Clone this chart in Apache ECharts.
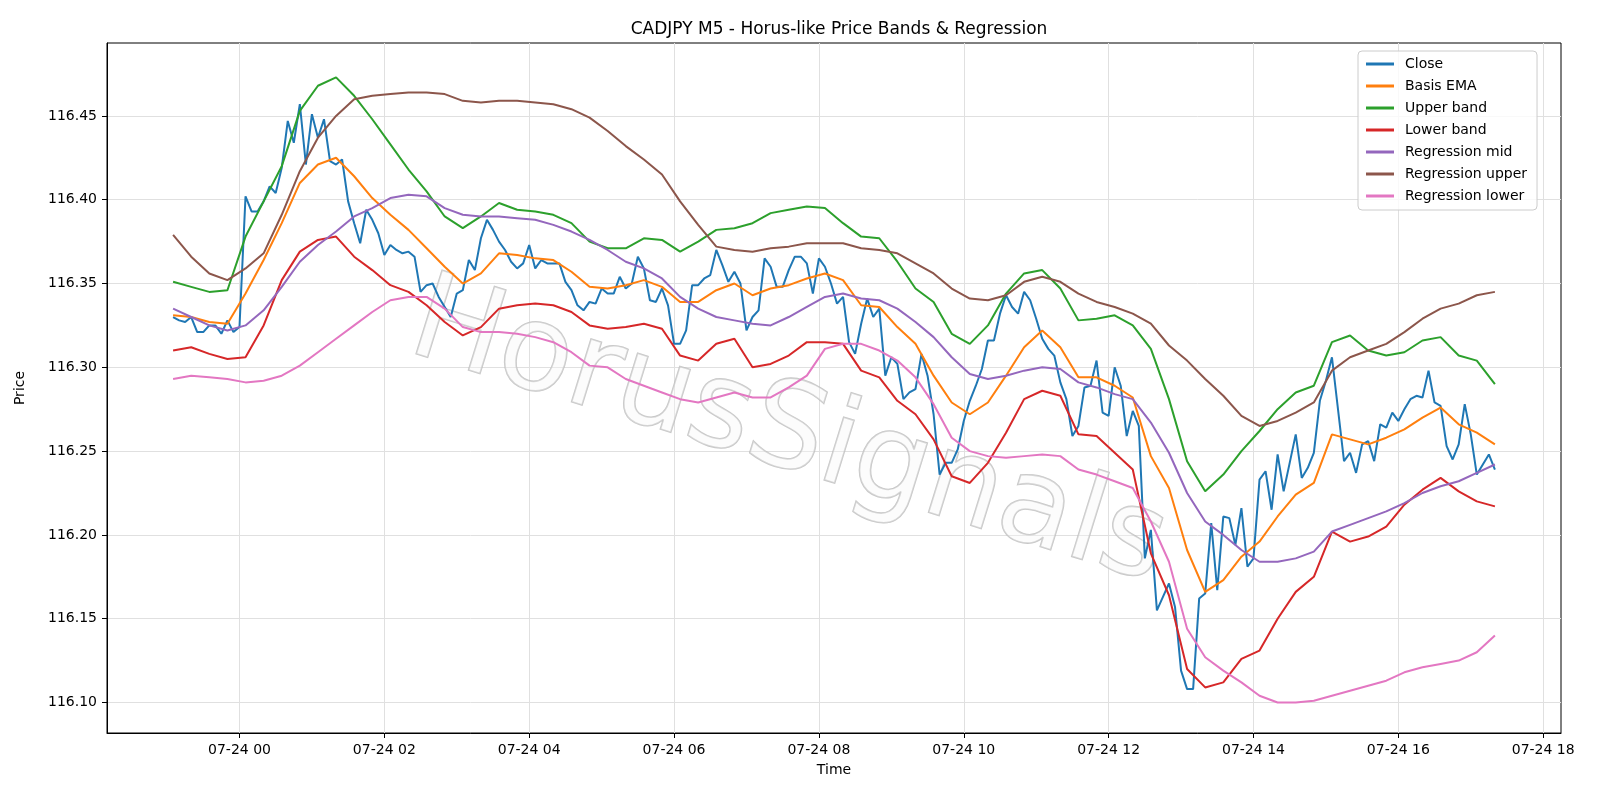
<!DOCTYPE html>
<html>
<head>
<meta charset="utf-8">
<title>CADJPY M5</title>
<script src="https://cdn.jsdelivr.net/npm/echarts@6/dist/echarts.min.js"></script>
<style>
  html, body { margin: 0; padding: 0; background: #fff; }
  #chart { width: 1600px; height: 800px; }
</style>
</head>
<body>
<div id="chart"></div>
<script>
// 5 minute bars, first bar is 07-23 23:05 (minutes counted from 07-24 00:00)
const startMinute = -55
const barMinutes = 5
// bands and regression lines were read every 3rd bar
const bandStep = 3

const close = [
  116.330, 116.328, 116.327, 116.330, 116.321, 116.321, 116.325, 116.325, 116.320, 116.328, 116.321, 116.324,
  116.402, 116.393, 116.393, 116.399, 116.408, 116.404, 116.419, 116.447, 116.434, 116.457, 116.421, 116.451,
  116.437, 116.448, 116.423, 116.421, 116.424, 116.399, 116.386, 116.374, 116.394, 116.388, 116.380, 116.367,
  116.373, 116.370, 116.368, 116.369, 116.366, 116.345, 116.349, 116.350, 116.342, 116.336, 116.330, 116.344,
  116.346, 116.364, 116.358, 116.377, 116.388, 116.382, 116.375, 116.370, 116.363, 116.359, 116.362, 116.373,
  116.359, 116.364, 116.362, 116.362, 116.362, 116.351, 116.346, 116.337, 116.334, 116.339, 116.338, 116.347,
  116.344, 116.344, 116.354, 116.347, 116.350, 116.366, 116.359, 116.340, 116.339, 116.347, 116.337, 116.314,
  116.314, 116.322, 116.349, 116.349, 116.353, 116.355, 116.370, 116.361, 116.351, 116.357, 116.350, 116.322,
  116.330, 116.334, 116.365, 116.360, 116.348, 116.348, 116.358, 116.366, 116.366, 116.362, 116.344, 116.365,
  116.360, 116.350, 116.338, 116.342, 116.315, 116.308, 116.326, 116.341, 116.330, 116.335, 116.295, 116.306,
  116.302, 116.281, 116.285, 116.287, 116.308, 116.295, 116.272, 116.236, 116.243, 116.243, 116.251, 116.268,
  116.280, 116.289, 116.299, 116.316, 116.316, 116.332, 116.343, 116.336, 116.332, 116.345, 116.340, 116.329,
  116.317, 116.311, 116.307, 116.291, 116.281, 116.259, 116.265, 116.288, 116.289, 116.304, 116.273, 116.271,
  116.300, 116.289, 116.259, 116.274, 116.265, 116.186, 116.203, 116.155, 116.163, 116.171, 116.157, 116.119,
  116.108, 116.108, 116.162, 116.165, 116.207, 116.167, 116.211, 116.210, 116.194, 116.216, 116.181, 116.186,
  116.233, 116.238, 116.215, 116.248, 116.226, 116.243, 116.260, 116.234, 116.240, 116.249, 116.280, 116.292,
  116.306, 116.275, 116.244, 116.249, 116.237, 116.254, 116.256, 116.244, 116.266, 116.264, 116.273, 116.268,
  116.275, 116.281, 116.283, 116.282, 116.298, 116.279, 116.277, 116.253, 116.245, 116.254, 116.278, 116.260,
  116.236, 116.242, 116.248, 116.239
]

const basisEma = [
  116.331, 116.330, 116.327, 116.326, 116.344, 116.364, 116.386, 116.410, 116.421, 116.425,
  116.414, 116.401, 116.391, 116.382, 116.371, 116.360, 116.350, 116.356, 116.368, 116.367,
  116.365, 116.364, 116.357, 116.348, 116.347, 116.349, 116.352, 116.348, 116.339, 116.339,
  116.346, 116.350, 116.343, 116.347, 116.349, 116.353, 116.356, 116.352, 116.337, 116.336,
  116.324, 116.314, 116.295, 116.279, 116.272, 116.279, 116.295, 116.312, 116.322, 116.312,
  116.294, 116.294, 116.289, 116.282, 116.247, 116.228, 116.191, 116.166, 116.173, 116.187,
  116.196, 116.211, 116.224, 116.231, 116.260, 116.257, 116.254, 116.258, 116.263, 116.270,
  116.276, 116.266, 116.261, 116.254
]

const upperBand = [
  116.351, 116.348, 116.345, 116.346, 116.378, 116.399, 116.420, 116.453, 116.468, 116.473,
  116.462, 116.448, 116.433, 116.418, 116.405, 116.390, 116.383, 116.390, 116.398, 116.394,
  116.393, 116.391, 116.386, 116.375, 116.371, 116.371, 116.377, 116.376, 116.369, 116.375,
  116.382, 116.383, 116.386, 116.392, 116.394, 116.396, 116.395, 116.386, 116.378, 116.377,
  116.363, 116.347, 116.339, 116.320, 116.314, 116.325, 116.344, 116.356, 116.358, 116.347,
  116.328, 116.329, 116.331, 116.325, 116.311, 116.281, 116.244, 116.226, 116.236, 116.250,
  116.262, 116.275, 116.285, 116.289, 116.315, 116.319, 116.310, 116.307, 116.309, 116.316,
  116.318, 116.307, 116.304, 116.290
]

const lowerBand = [
  116.310, 116.312, 116.308, 116.305, 116.306, 116.325, 116.352, 116.369, 116.376, 116.378,
  116.366, 116.358, 116.349, 116.345, 116.337, 116.327, 116.319, 116.324, 116.335, 116.337,
  116.338, 116.337, 116.333, 116.325, 116.323, 116.324, 116.326, 116.323, 116.307, 116.304,
  116.314, 116.317, 116.300, 116.302, 116.307, 116.315, 116.315, 116.314, 116.298, 116.294,
  116.280, 116.272, 116.257, 116.235, 116.231, 116.243, 116.261, 116.281, 116.286, 116.283,
  116.260, 116.259, 116.249, 116.239, 116.189, 116.164, 116.120, 116.109, 116.112, 116.126,
  116.131, 116.150, 116.166, 116.175, 116.202, 116.196, 116.199, 116.205, 116.218, 116.227,
  116.234, 116.226, 116.220, 116.217
]

const regMid = [
  116.335, 116.330, 116.325, 116.322, 116.325, 116.334, 116.348, 116.363, 116.373, 116.381,
  116.390, 116.395, 116.401, 116.403, 116.402, 116.395, 116.391, 116.390, 116.390, 116.389,
  116.388, 116.385, 116.381, 116.376, 116.370, 116.363, 116.359, 116.353, 116.342, 116.335,
  116.330, 116.328, 116.326, 116.325, 116.330, 116.336, 116.342, 116.344, 116.341, 116.340,
  116.335, 116.327, 116.318, 116.306, 116.296, 116.293, 116.295, 116.298, 116.300, 116.299,
  116.291, 116.288, 116.284, 116.281, 116.267, 116.249, 116.225, 116.208, 116.200, 116.191,
  116.184, 116.184, 116.186, 116.190, 116.202, 116.206, 116.210, 116.214, 116.219, 116.225,
  116.229, 116.232, 116.237, 116.242
]

const regUpper = [
  116.379, 116.366, 116.356, 116.352, 116.359, 116.368, 116.391, 116.417, 116.437, 116.450,
  116.460, 116.462, 116.463, 116.464, 116.464, 116.463, 116.459, 116.458, 116.459, 116.459,
  116.458, 116.457, 116.454, 116.449, 116.441, 116.432, 116.424, 116.415, 116.399, 116.385,
  116.372, 116.370, 116.369, 116.371, 116.372, 116.374, 116.374, 116.374, 116.371, 116.370,
  116.368, 116.362, 116.356, 116.347, 116.341, 116.340, 116.343, 116.351, 116.354, 116.351,
  116.344, 116.339, 116.336, 116.332, 116.326, 116.313, 116.304, 116.293, 116.283, 116.271,
  116.265, 116.268, 116.273, 116.279, 116.298, 116.306, 116.310, 116.314, 116.321, 116.329,
  116.335, 116.338, 116.343, 116.345
]

const regLower = [
  116.293, 116.295, 116.294, 116.293, 116.291, 116.292, 116.295, 116.301, 116.309, 116.317,
  116.325, 116.333, 116.340, 116.342, 116.342, 116.335, 116.324, 116.321, 116.321, 116.320,
  116.318, 116.315, 116.309, 116.301, 116.300, 116.293, 116.289, 116.285, 116.281, 116.279,
  116.282, 116.285, 116.282, 116.282, 116.288, 116.295, 116.311, 116.314, 116.314, 116.310,
  116.304, 116.294, 116.278, 116.258, 116.250, 116.247, 116.246, 116.247, 116.248, 116.247,
  116.239, 116.236, 116.232, 116.228, 116.208, 116.184, 116.144, 116.127, 116.119, 116.112,
  116.104, 116.100, 116.100, 116.101, 116.104, 116.107, 116.110, 116.113, 116.118, 116.121,
  116.123, 116.125, 116.130, 116.140
]

const xTicks = [0, 120, 240, 360, 480, 600, 720, 840, 960, 1080]
const yTicks = [116.10, 116.15, 116.20, 116.25, 116.30, 116.35, 116.40, 116.45]

const font = 'DejaVu Sans'

function barSeries(values) {
  return values.map((v, i) => [startMinute + i * barMinutes, v])
}
function bandSeries(values) {
  return values.map((v, k) => [startMinute + k * bandStep * barMinutes, v])
}
function line(name, color, data) {
  return {
    name: name,
    type: 'line',
    data: data,
    symbol: 'none',
    color: color,
    lineStyle: { width: 2, color: color },
    emphasis: { disabled: true }
  }
}

const chart = echarts.init(document.getElementById('chart'))
chart.setOption({
  animation: false,
  backgroundColor: '#fff',
  title: {
    text: 'CADJPY M5 - Horus-like Price Bands & Regression',
    left: 834,
    top: 16,
    textAlign: 'center',
    textStyle: { fontFamily: font, fontSize: 17, fontWeight: 'normal', color: '#000' }
  },
  legend: {
    orient: 'vertical',
    left: 1358,
    top: 51,
    icon: 'rect',
    itemWidth: 28,
    itemHeight: 3,
    itemGap: 6,
    padding: [5, 10, 6, 8],
    backgroundColor: 'rgba(255,255,255,0.8)',
    borderColor: '#cccccc',
    borderWidth: 1,
    borderRadius: 4,
    textStyle: { fontFamily: font, fontSize: 14, lineHeight: 16, color: '#000', padding: [0, 0, 0, 6] },
    data: ['Close', 'Basis EMA', 'Upper band', 'Lower band', 'Regression mid', 'Regression upper', 'Regression lower']
  },
  grid: {
    left: 107,
    top: 43,
    width: 1454,
    height: 690,
    show: true,
    borderColor: '#000',
    borderWidth: 1,
    backgroundColor: 'transparent'
  },
  graphic: [{
    type: 'text',
    x: 788,
    y: 436,
    rotation: -0.3,
    z: 1,
    silent: true,
    style: {
      text: 'HorusSignals',
      fontFamily: font,
      fontSize: 120,
      align: 'center',
      verticalAlign: 'middle',
      fill: 'rgba(245,245,245,0.35)',
      stroke: 'rgba(185,185,185,0.8)',
      lineWidth: 1.6,
      shadowColor: 'rgba(0,0,0,0.2)',
      shadowOffsetX: 3,
      shadowOffsetY: 3,
      shadowBlur: 2
    }
  }],
  xAxis: {
    type: 'value',
    min: -109.75,
    max: 1094.75,
    name: 'Time',
    nameLocation: 'middle',
    nameGap: 30,
    nameTextStyle: { fontFamily: font, fontSize: 14, color: '#000' },
    axisLine: { show: true, onZero: false, lineStyle: { color: '#000', width: 1 } },
    axisTick: { show: true, length: 5, customValues: xTicks, lineStyle: { color: '#000' } },
    axisLabel: {
      customValues: xTicks,
      margin: 10,
      fontFamily: font,
      fontSize: 14,
      color: '#000',
      formatter: v => '07-24 ' + String(Math.round(v / 60)).padStart(2, '0')
    },
    splitLine: { show: true, lineStyle: { color: '#e0e0e0', width: 1 } }
  },
  yAxis: {
    type: 'value',
    min: 116.0818,
    max: 116.4935,
    name: 'Price',
    nameLocation: 'middle',
    nameGap: 80,
    nameTextStyle: { fontFamily: font, fontSize: 14, color: '#000' },
    axisLine: { show: true, onZero: false, lineStyle: { color: '#000', width: 1 } },
    axisTick: { show: true, length: 5, customValues: yTicks, lineStyle: { color: '#000' } },
    axisLabel: {
      customValues: yTicks,
      margin: 10,
      fontFamily: font,
      fontSize: 14,
      color: '#000',
      formatter: v => v.toFixed(2)
    },
    splitLine: { show: true, lineStyle: { color: '#e0e0e0', width: 1 } }
  },
  series: [
    line('Close', '#1f77b4', barSeries(close)),
    line('Basis EMA', '#ff7f0e', bandSeries(basisEma)),
    line('Upper band', '#2ca02c', bandSeries(upperBand)),
    line('Lower band', '#d62728', bandSeries(lowerBand)),
    line('Regression mid', '#9467bd', bandSeries(regMid)),
    line('Regression upper', '#8c564b', bandSeries(regUpper)),
    line('Regression lower', '#e377c2', bandSeries(regLower))
  ]
})
</script>
</body>
</html>
